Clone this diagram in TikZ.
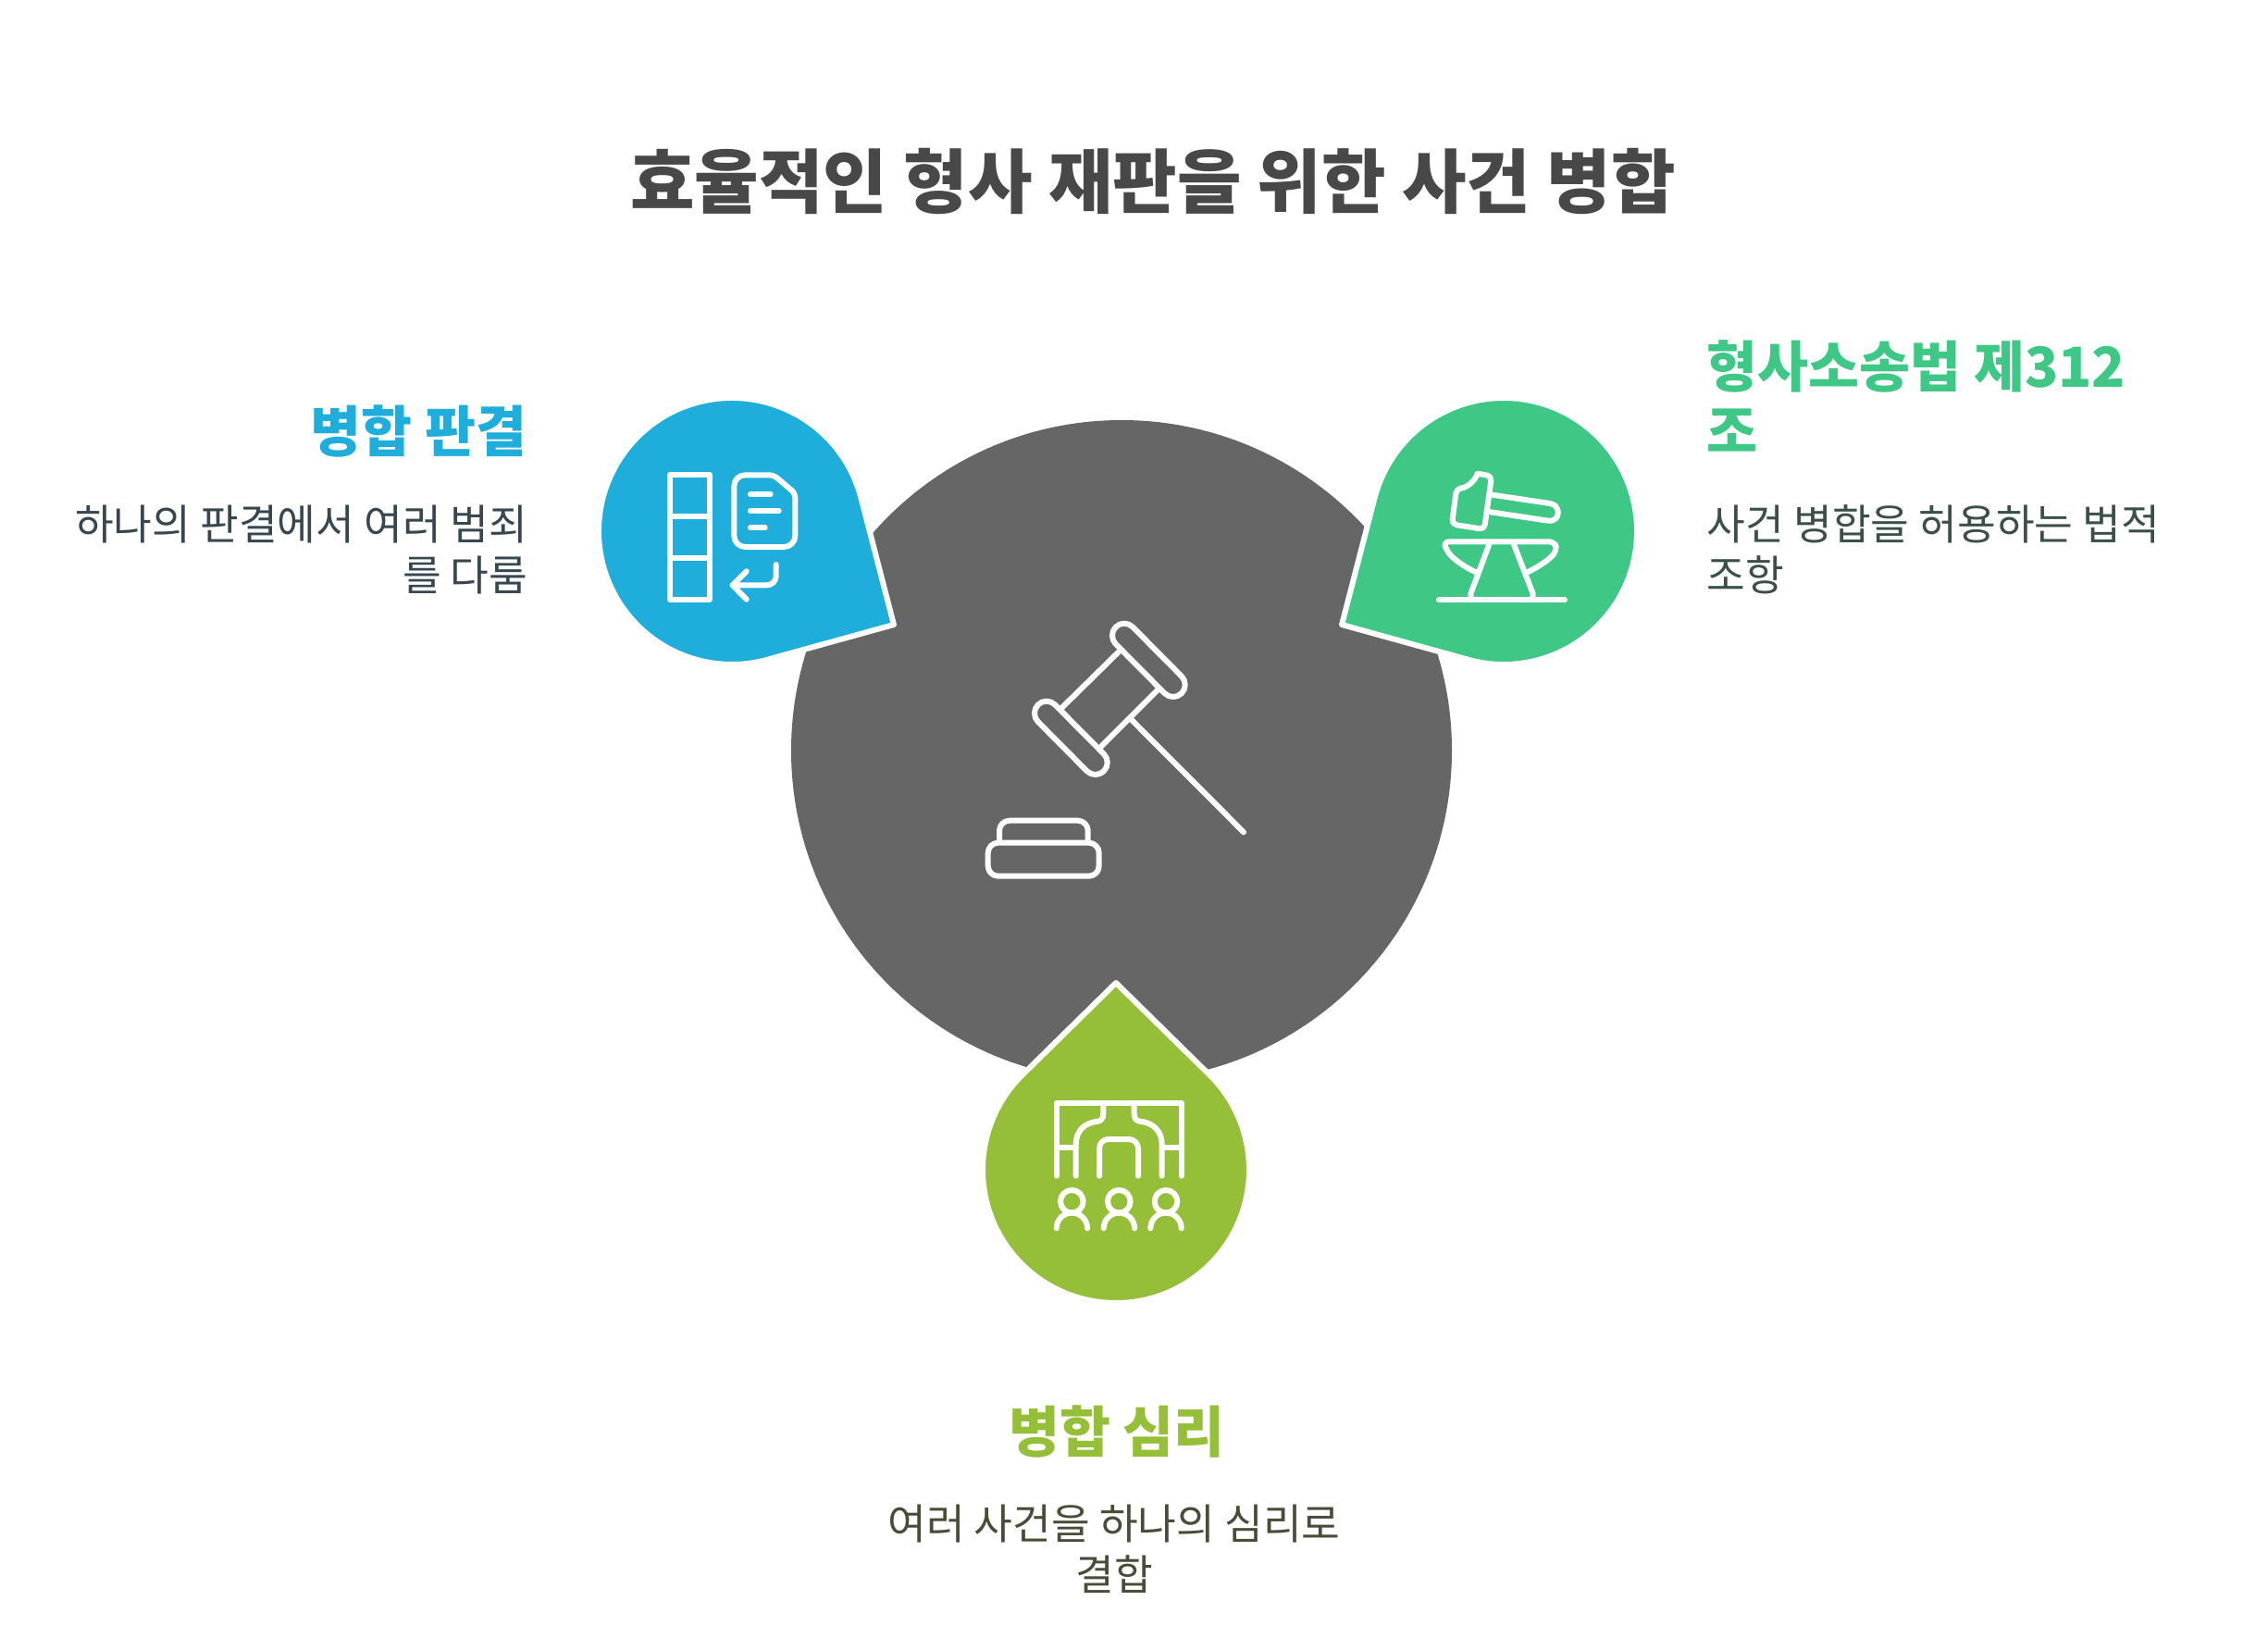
\documentclass[tikz,border=0pt]{standalone}
\usepackage{fontspec}
\setmainfont{Noto Sans CJK KR}
\definecolor{dropblue}{HTML}{1FADDC}
\definecolor{dropgreen}{HTML}{3FC785}
\definecolor{droplime}{HTML}{95BF39}
\definecolor{hubgray}{HTML}{666666}
\definecolor{titlegray}{HTML}{484848}
\definecolor{blueink}{HTML}{37474F}
\definecolor{greenink}{HTML}{3A4F45}
\definecolor{limeink}{HTML}{484D38}
\tikzset{icon/.style={white, line width=0.06cm, line cap=round, line join=round}}
\tikzset{drop/.style={fill=#1, draw=white, line width=0.06cm, line join=round}}
\tikzset{titletext/.style={inner sep=0pt, text=titlegray, font=\fontsize{21.5}{26}\selectfont\bfseries}}
\tikzset{headtext/.style={inner sep=0pt, font=\fontsize{17}{19.8}\selectfont\bfseries}}
\tikzset{bodytext/.style={inner sep=0pt, font=\fontsize{12.9}{15.7}\selectfont}}

\begin{document}
\begin{tikzpicture}
    \useasboundingbox (0,0) rectangle (24.51,-17.70);
    %Hub
    \fill [hubgray] (12.12,-8.11) circle(3.57);
    %Drops
    \begin{scope}[shift={(7.91,-5.74)}, rotate=-30]
      \draw [drop=dropblue] (2.02,0) -- (44.5:1.44) arc[start angle=44.5, end angle=315.5, radius=1.44] -- cycle;
    \end{scope}
    \begin{scope}[shift={(16.25,-5.74)}, rotate=210]
      \draw [drop=dropgreen] (2.02,0) -- (44.5:1.44) arc[start angle=44.5, end angle=315.5, radius=1.44] -- cycle;
    \end{scope}
    \begin{scope}[shift={(12.06,-12.64)}, rotate=90]
      \draw [drop=droplime] (2.02,0) -- (44.5:1.44) arc[start angle=44.5, end angle=315.5, radius=1.44] -- cycle;
    \end{scope}
    %Gavel
    \draw [icon, rounded corners=0.13cm] (12.15,-6.683) -- (12.861,-7.40) -- (12.677,-7.584) -- (11.966,-6.867) -- cycle;
    \draw [icon, rounded corners=0.13cm] (11.31,-7.523) -- (12.021,-8.24) -- (11.837,-8.424) -- (11.126,-7.707) -- cycle;
    \draw [icon] (12.10,-7.033) -- (11.473,-7.65);
    \draw [icon] (12.517,-7.45) -- (11.90,-8.067);
    \draw [icon] (12.233,-7.783) -- (13.44,-8.993);
    \draw [icon, rounded corners=0.11cm] (10.80,-9.10) -- (10.80,-8.867) -- (11.757,-8.867) -- (11.757,-9.10);
    \draw [icon, rounded corners=0.11cm] (10.677,-9.467) -- (10.677,-9.107) -- (11.877,-9.107) -- (11.877,-9.467) -- cycle;
    %Blue icon
    \draw [icon] (7.243,-5.127) rectangle (7.667,-6.477);
    \draw [icon] (7.243,-5.577) -- (7.667,-5.577);
    \draw [icon] (7.243,-6.027) -- (7.667,-6.027);
    \draw [icon, rounded corners=0.12cm] (7.933,-5.50) -- (7.933,-5.133) [rounded corners=0.05cm] -- (8.36,-5.133) -- (8.593,-5.33) [rounded corners=0.12cm] -- (8.593,-5.91) -- (7.933,-5.91) -- cycle;
    \draw [icon] (8.11,-5.343) -- (8.327,-5.343);
    \draw [icon] (8.11,-5.523) -- (8.417,-5.523);
    \draw [icon] (8.11,-5.703) -- (8.267,-5.703);
    \draw [icon, rounded corners=0.1cm] (8.387,-6.10) -- (8.387,-6.323) -- (7.917,-6.323);
    \draw [icon] (8.067,-6.173) -- (7.917,-6.323) -- (8.067,-6.477);
    %Green icon
    \draw [icon, rounded corners=0.05cm] (15.967,-5.117) -- (16.12,-5.145) -- (16.04,-5.72) -- (15.69,-5.665) -- (15.74,-5.28) .. controls (15.85,-5.27) and (15.94,-5.20) .. (15.967,-5.117);
    \draw [icon] (16.10,-5.343) -- (16.75,-5.44) .. controls (16.88,-5.46) and (16.86,-5.647) .. (16.73,-5.627) -- (16.067,-5.527);
    \draw [icon, rounded corners=0.06cm] (15.95,-6.183) .. controls (15.83,-6.13) and (15.72,-6.05) .. (15.633,-5.95) -- (15.60,-5.853) -- (16.80,-5.853) -- (16.827,-5.943) .. controls (16.74,-6.05) and (16.62,-6.13) .. (16.507,-6.183);
    \draw [icon] (16.093,-5.883) -- (15.893,-6.417) -- (15.90,-6.483);
    \draw [icon] (16.36,-5.883) -- (16.567,-6.417) -- (16.56,-6.483);
    \draw [icon] (15.55,-6.483) -- (16.91,-6.483);
    %Lime icon
    \draw [icon] (11.417,-12.707) -- (11.417,-11.923) -- (12.767,-11.923) -- (12.767,-12.707);
    \draw [icon] (11.417,-12.40) -- (11.627,-12.40);
    \draw [icon] (12.56,-12.40) -- (12.767,-12.40);
    \draw [icon] (11.627,-12.707) -- (11.627,-12.367) .. controls (11.627,-12.22) and (11.72,-12.13) .. (11.867,-12.117) .. controls (11.90,-12.11) and (11.923,-12.09) .. (11.923,-12.033) -- (11.923,-11.93);
    \draw [icon] (12.557,-12.707) -- (12.557,-12.367) .. controls (12.557,-12.22) and (12.46,-12.13) .. (12.317,-12.117) .. controls (12.28,-12.11) and (12.257,-12.09) .. (12.257,-12.033) -- (12.257,-11.93);
    \draw [icon, rounded corners=0.1cm] (11.88,-12.707) -- (11.88,-12.31) -- (12.30,-12.31) -- (12.30,-12.707);
    \draw [icon] (11.583,-12.983) circle(0.123);
    \draw [icon] (12.093,-12.983) circle(0.123);
    \draw [icon] (12.60,-12.983) circle(0.123);
    \draw [icon] (11.417,-13.273) arc[start angle=180, end angle=0, radius=0.167];
    \draw [icon] (11.927,-13.273) arc[start angle=180, end angle=0, radius=0.167];
    \draw [icon] (12.433,-13.273) arc[start angle=180, end angle=0, radius=0.167];
    %Texts
    \node [titletext] (title) at (12.46,-1.96) {효율적인 형사 재판을 위한 사건 병합};
    \node [headtext, text=dropblue, anchor=east] (blueHead) at (5.70,-4.66) {병합 판결};
    \node [bodytext, text=blueink, anchor=east, align=right] (blueText) at (5.71,-5.94) {하나의 판결에서 여러 범죄\\를 다룸};
    \node [headtext, text=dropgreen, anchor=west, align=left] (greenHead) at (18.44,-4.28) {형사소송법 제312\\조};
    \node [bodytext, text=greenink, anchor=west, align=left] (greenText) at (18.44,-5.94) {사건 병합을 허용하는 법적\\조항};
    \node [headtext, text=droplime] (limeHead) at (12.07,-15.47) {병합 심리};
    \node [bodytext, text=limeink, align=center] (limeText) at (12.04,-16.74) {여러 사건을 하나의 심리로\\결합};
\end{tikzpicture}
\end{document}
